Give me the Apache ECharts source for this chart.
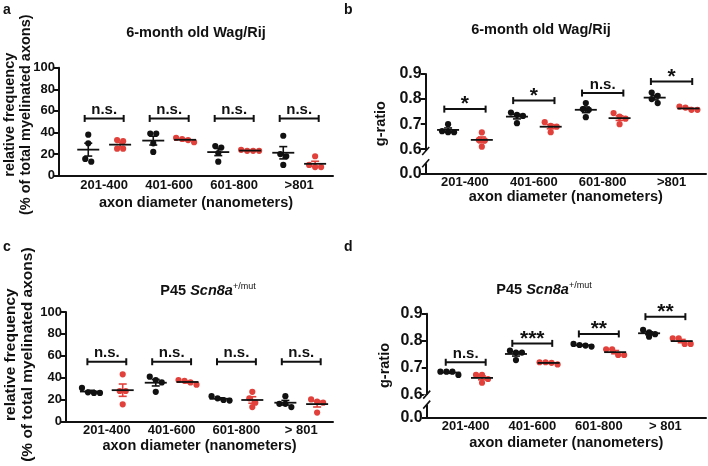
<!DOCTYPE html>
<html>
<head>
<meta charset="utf-8">
<script src="https://cdn.jsdelivr.net/npm/echarts@6/dist/echarts.min.js"></script>
<style>
  html, body { margin: 0; padding: 0; background: #fff; }
  #main { width: 708px; height: 466px; }
</style>
</head>
<body>
<div id="main"></div>
<script>
// categories (axon diameter bins, nm)
var binsWag = ['201-400', '401-600', '601-800', '>801'];
var binsP45 = ['201-400', '401-600', '601-800', '> 801'];

// a: relative frequency (%), 6-month Wag/Rij, 4 animals per bin
var freqWagCtrl = [[38, 30, 13, 15.5], [39, 30, 22, 39], [26, 27.5, 21, 13], [37, 18, 20, 10]];
var freqWagMut  = [[25, 33, 32, 25], [31, 33, 34, 35], [23, 23, 23, 24], [8, 18, 10, 8]];

// b: g-ratio, 6-month Wag/Rij
var gWagCtrl = [[0.668, 0.70, 0.672, 0.668], [0.746, 0.733, 0.704, 0.737], [0.784, 0.757, 0.728, 0.76], [0.813, 0.826, 0.80, 0.784]];
var gWagMut  = [[0.637, 0.667, 0.61, 0.635], [0.708, 0.69, 0.668, 0.693], [0.744, 0.722, 0.70, 0.73], [0.757, 0.77, 0.757, 0.766]];

// c: relative frequency (%), P45 Scn8a
var freqP45Ctrl = [[26, 30.5, 26.5, 26], [37.8, 35.6, 27, 40.8], [19.5, 21, 23, 19], [23, 13, 16, 16]];
var freqP45Mut  = [[27.7, 43, 15.5, 27.7], [33.5, 37.8, 37, 35.6], [27, 21, 17, 13], [20, 18, 8, 17]];

// d: g-ratio, P45 Scn8a
var gP45Ctrl = [[0.673, 0.685, 0.685, 0.685], [0.763, 0.756, 0.728, 0.756], [0.778, 0.788, 0.782, 0.784], [0.815, 0.831, 0.84, 0.824]];
var gP45Mut  = [[0.673, 0.644, 0.673, 0.658], [0.712, 0.72, 0.72, 0.718], [0.768, 0.747, 0.768, 0.747], [0.809, 0.788, 0.809, 0.788]];

// significance brackets (height on y scale + label)
var sigWagFreqY = [53, 53, 53, 53];
var sigWagFreq  = ['n.s.', 'n.s.', 'n.s.', 'n.s.'];
var sigWagGY    = [0.76, 0.794, 0.824, 0.87];
var sigWagG     = ['*', '*', 'n.s.', '*'];
var sigP45FreqY = [54.5, 54.5, 54.5, 54.5];
var sigP45Freq  = ['n.s.', 'n.s.', 'n.s.', 'n.s.'];
var sigP45GY    = [0.72, 0.79, 0.825, 0.889];
var sigP45G     = ['n.s.', '***', '**', '**'];

var freqTicks = [0, 20, 40, 60, 80, 100];
var gTicksWag = [0.504, 0.6, 0.7, 0.8, 0.9];   // bottom tick shown as 0.0 (broken axis)
var gTicksP45 = [0.516, 0.6, 0.7, 0.8, 0.9];

var FONT = '"Liberation Sans", Arial, Helvetica, sans-serif';
var INK = '#111';
var RED = '#e2413b';
var SHIFT = 0.245;   // sub-column offset of each genotype

function mean(a) {
    var s = 0;
    a.forEach(function (v) { s += v; });
    return s / a.length;
}
function sem(a) {
    var m = mean(a), s = 0;
    a.forEach(function (v) { s += (v - m) * (v - m); });
    return Math.sqrt(s / (a.length - 1)) / Math.sqrt(a.length);
}

/*
 * spread points with nearly equal y sideways (like a column scatter)
 */
function swarm(api, x, vals, step) {
    var pts = vals.map(function (v) { return api.coord([x, v]); });
    pts.sort(function (p, q) { return p[1] - q[1]; });
    var out = [], i = 0;
    while (i < pts.length) {
        var j = i + 1;
        while (j < pts.length && pts[j][1] - pts[i][1] < step) j++;
        var n = j - i;
        for (var k = i; k < j; k++) {
            out.push([pts[k][0] + (k - i - (n - 1) / 2) * step, pts[k][1]]);
        }
        i = j;
    }
    return out;
}

function groupSeries(idx, values, side, color) {
    return {
        type: 'custom',
        xAxisIndex: idx,
        yAxisIndex: idx,
        clip: false,
        z: 3,
        data: values.map(function (v, i) { return [i + side * SHIFT, mean(v)]; }),
        renderItem: function (params, api) {
            var vals = values[params.dataIndex];
            var x = api.value(0);
            var m = mean(vals), se = sem(vals);
            var pm = api.coord([x, m]);
            var pt = api.coord([x, m + se]);
            var pb = api.coord([x, m - se]);
            var kids = [];
            swarm(api, x, vals, 6).forEach(function (p) {
                kids.push({ type: 'circle', shape: { cx: p[0], cy: p[1], r: 3.1 }, style: { fill: color } });
            });
            var ls = { stroke: color, lineWidth: 1.6 };
            kids.push({ type: 'line', shape: { x1: pt[0], y1: pt[1], x2: pb[0], y2: pb[1] }, style: ls });
            kids.push({ type: 'line', shape: { x1: pt[0] - 4, y1: pt[1], x2: pt[0] + 4, y2: pt[1] }, style: ls });
            kids.push({ type: 'line', shape: { x1: pb[0] - 4, y1: pb[1], x2: pb[0] + 4, y2: pb[1] }, style: ls });
            kids.push({ type: 'line', shape: { x1: pm[0] - 11, y1: pm[1], x2: pm[0] + 11, y2: pm[1] }, style: { stroke: INK, lineWidth: 1.8 } });
            return { type: 'group', children: kids };
        }
    };
}

function bracketSeries(idx, heights, labels) {
    return {
        type: 'custom',
        xAxisIndex: idx,
        yAxisIndex: idx,
        clip: false,
        z: 4,
        data: heights.map(function (h, i) { return [i, h]; }),
        renderItem: function (params, api) {
            var i = api.value(0), h = api.value(1);
            var l = api.coord([i - 0.3, h]), r = api.coord([i + 0.3, h]);
            var txt = labels[params.dataIndex];
            var star = txt.indexOf('*') >= 0;
            var ls = { stroke: INK, lineWidth: 2 };
            return {
                type: 'group',
                children: [
                    { type: 'line', shape: { x1: l[0], y1: l[1], x2: r[0], y2: r[1] }, style: ls },
                    { type: 'line', shape: { x1: l[0], y1: l[1] - 3.5, x2: l[0], y2: l[1] + 3.5 }, style: ls },
                    { type: 'line', shape: { x1: r[0], y1: r[1] - 3.5, x2: r[0], y2: r[1] + 3.5 }, style: ls },
                    {
                        type: 'text',
                        x: (l[0] + r[0]) / 2,
                        y: l[1] + (star ? 6 : -1),
                        style: {
                            text: txt, align: 'center', verticalAlign: 'bottom',
                            font: 'bold ' + (star ? 21 : 15) + 'px ' + FONT, fill: INK
                        }
                    }
                ]
            };
        }
    };
}

// axis break marks on the g-ratio axes
function breakSeries(idx, xmin, hi, lo) {
    return {
        type: 'custom',
        xAxisIndex: idx,
        yAxisIndex: idx,
        clip: false,
        z: 5,
        data: [[xmin, hi, lo]],
        renderItem: function (params, api) {
            var a = api.coord([api.value(0), api.value(1)]);
            var b = api.coord([api.value(0), api.value(2)]);
            var ls = { stroke: INK, lineWidth: 1.6 };
            return {
                type: 'group',
                children: [
                    { type: 'rect', shape: { x: a[0] - 3, y: a[1], width: 6, height: b[1] - a[1] }, style: { fill: '#fff' } },
                    { type: 'line', shape: { x1: a[0] - 3.5, y1: a[1] + 4, x2: a[0] + 3.5, y2: a[1] - 4 }, style: ls },
                    { type: 'line', shape: { x1: b[0] - 3.5, y1: b[1] + 4, x2: b[0] + 3.5, y2: b[1] - 4 }, style: ls }
                ]
            };
        }
    };
}

function xAxisCfg(idx, min, max, names, gap) {
    return {
        type: 'value', gridIndex: idx, min: min, max: max,
        axisLine: { onZero: false, lineStyle: { color: INK, width: 2 } },
        axisTick: { show: false },
        splitLine: { show: false },
        axisLabel: {
            customValues: [0, 1, 2, 3],
            formatter: function (v) { return names[Math.round(v)]; },
            color: INK, fontFamily: FONT, fontWeight: 'bold', fontSize: 13, margin: 3
        },
        name: 'axon diameter (nanometers)',
        nameLocation: 'middle',
        nameGap: gap,
        nameMoveOverlap: false,
        nameTextStyle: { color: INK, fontFamily: FONT, fontWeight: 'bold', fontSize: 14.5 }
    };
}

function yAxisCfg(idx, min, max, ticks, name, gap, fmt, labelSize, nameSize, pad) {
    return {
        type: 'value', gridIndex: idx, min: min, max: max,
        axisLine: { show: true, onZero: false, lineStyle: { color: INK, width: 2 } },
        axisTick: { show: true, length: 5, customValues: ticks, lineStyle: { color: INK, width: 2 } },
        splitLine: { show: false },
        axisLabel: {
            customValues: ticks, formatter: fmt, margin: 4,
            color: INK, fontFamily: FONT, fontWeight: 'bold', fontSize: labelSize
        },
        name: name,
        nameLocation: 'middle',
        nameRotate: 90,
        nameGap: gap,
        nameMoveOverlap: false,
        nameTextStyle: {
            color: INK, fontFamily: FONT, fontWeight: 'bold', fontSize: nameSize,
            lineHeight: nameSize + 1.5, padding: pad || 0
        }
    };
}

function fmtFreq(v) { return String(v); }
function fmtG(v) { return v < 0.55 ? '0.0' : v.toFixed(1); }

var freqName = 'relative frequency\n(% of total myelinated axons)';

var chart = echarts.init(document.getElementById('main'), null, { renderer: 'canvas' });

var titleStyle = { font: 'bold 14.5px ' + FONT, fill: INK, align: 'center', verticalAlign: 'middle' };
function p45Title(x, y) {
    return {
        type: 'text', x: x, y: y,
        style: {
            text: '{n|P45 }{i|Scn8a}{s|+/mut}',
            align: 'center', verticalAlign: 'middle',
            rich: {
                n: { font: 'bold 14.5px ' + FONT, fill: INK },
                i: { font: 'italic bold 14.5px ' + FONT, fill: INK },
                s: { font: '9px ' + FONT, fill: INK, verticalAlign: 'top', padding: [0, 0, 8, 0] }
            }
        }
    };
}

chart.setOption({
    backgroundColor: '#fff',
    animation: false,
    graphic: [
        { type: 'text', x: 3, y: 3, style: { text: 'a', font: 'bold 14px ' + FONT, fill: INK } },
        { type: 'text', x: 344, y: 3, style: { text: 'b', font: 'bold 14px ' + FONT, fill: INK } },
        { type: 'text', x: 3, y: 240, style: { text: 'c', font: 'bold 14px ' + FONT, fill: INK } },
        { type: 'text', x: 344, y: 240, style: { text: 'd', font: 'bold 14px ' + FONT, fill: INK } },
        { type: 'text', x: 196, y: 33, style: Object.assign({ text: '6-month old Wag/Rij' }, titleStyle) },
        { type: 'text', x: 541, y: 30, style: Object.assign({ text: '6-month old Wag/Rij' }, titleStyle) },
        p45Title(208, 291),
        p45Title(544, 290)
    ],
    grid: [
        { left: 59, top: 67.7, width: 274, height: 108, outerBoundsMode: 'none' },
        { left: 425.7, top: 74, width: 280.3, height: 99.3, outerBoundsMode: 'none' },
        { left: 66, top: 312, width: 267, height: 109.3, outerBoundsMode: 'none' },
        { left: 426.7, top: 313.7, width: 279.3, height: 103.6, outerBoundsMode: 'none' }
    ],
    xAxis: [
        xAxisCfg(0, -0.695, 3.52, binsWag, 20),
        xAxisCfg(1, -0.57, 3.5, binsWag, 16),
        xAxisCfg(2, -0.63, 3.49, binsP45, 17),
        xAxisCfg(3, -0.586, 3.61, binsP45, 18)
    ],
    yAxis: [
        yAxisCfg(0, 0, 100, freqTicks, freqName, 25, fmtFreq, 13, 14.5, [0, 0, 0, 14]),
        yAxisCfg(1, 0.504, 0.9, gTicksWag, 'g-ratio', 37, fmtG, 16, 14.5),
        yAxisCfg(2, 0, 100, freqTicks, freqName, 30, fmtFreq, 13, 15.5, [0, 0, 0, 24]),
        yAxisCfg(3, 0.516, 0.9, gTicksP45, 'g-ratio', 34, fmtG, 16, 14.5)
    ],
    series: [
        groupSeries(0, freqWagCtrl, -1, INK),
        groupSeries(0, freqWagMut, 1, RED),
        bracketSeries(0, sigWagFreqY, sigWagFreq),
        groupSeries(1, gWagCtrl, -1, INK),
        groupSeries(1, gWagMut, 1, RED),
        bracketSeries(1, sigWagGY, sigWagG),
        breakSeries(1, -0.57, 0.593, 0.544),
        groupSeries(2, freqP45Ctrl, -1, INK),
        groupSeries(2, freqP45Mut, 1, RED),
        bracketSeries(2, sigP45FreqY, sigP45Freq),
        groupSeries(3, gP45Ctrl, -1, INK),
        groupSeries(3, gP45Mut, 1, RED),
        bracketSeries(3, sigP45GY, sigP45G),
        breakSeries(3, -0.586, 0.6, 0.563)
    ]
});
</script>
</body>
</html>
